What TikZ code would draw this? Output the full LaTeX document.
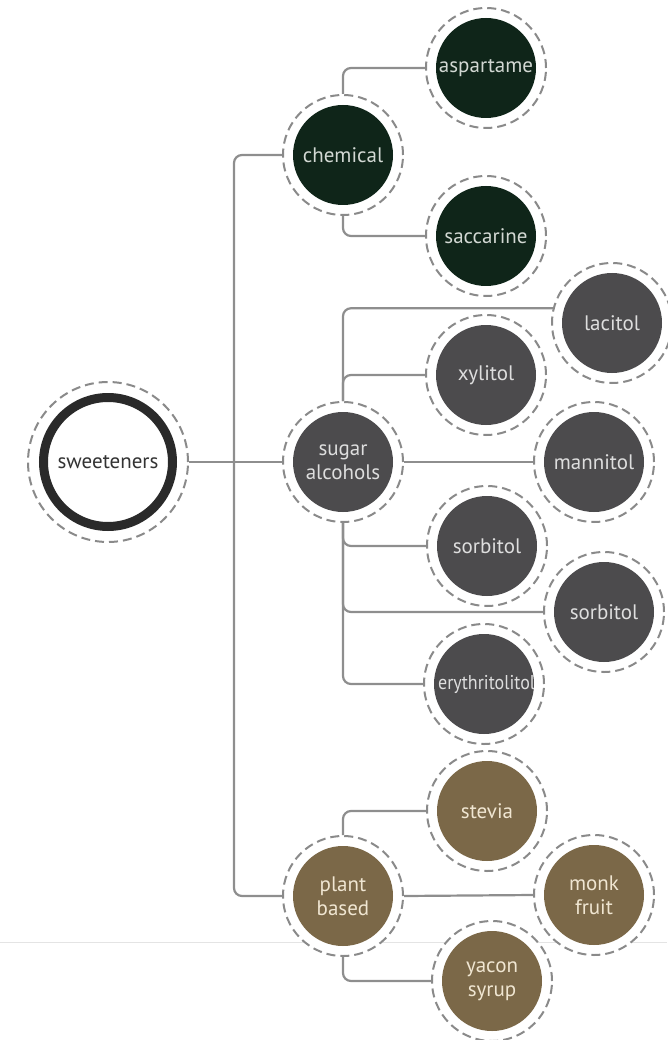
\documentclass[tikz,border=0pt]{standalone}
\usepackage{fontspec}
\setmainfont{PT Sans}
\usetikzlibrary{backgrounds}

\definecolor{chemgreen}{HTML}{0F2519}
\definecolor{chemtext}{HTML}{D2D8D3}
\definecolor{alcgray}{HTML}{4C4B4D}
\definecolor{alctext}{HTML}{DEDEDE}
\definecolor{plantbrown}{HTML}{7B6848}
\definecolor{planttext}{HTML}{F0E6D2}
\definecolor{ringdark}{HTML}{2A2A2A}
\definecolor{roottext}{HTML}{333333}
\definecolor{linegray}{HTML}{8E8E8E}
\definecolor{dashgray}{HTML}{8A8A8A}
\definecolor{rulegray}{HTML}{E4E4E4}

\tikzset{
  labelfont/.style={font=\fontsize{21}{24}\selectfont, align=center},
  halo/.style={circle, minimum size=120pt, inner sep=0pt, fill=white,
    draw=dashgray, line width=2pt, dash pattern=on 9pt off 5pt},
  bighalo/.style={halo, minimum size=160pt},
  disc/.style={circle, minimum size=100pt, inner sep=0pt, fill=#1, labelfont},
  chemdisc/.style={disc=chemgreen, text=chemtext},
  alcdisc/.style={disc=alcgray, text=alctext},
  plantdisc/.style={disc=plantbrown, text=planttext},
  rootring/.style={circle, minimum size=129pt, inner sep=0pt, fill=white,
    draw=ringdark, line width=9pt, labelfont, text=roottext},
  link/.style={draw=linegray, line width=2.2pt, rounded corners=8pt},
}

\begin{document}
\begin{tikzpicture}[x=1pt, y=-1pt]
\useasboundingbox (0,0) rectangle (667,1040);

% root
\node[bighalo] (sw) at (108,462) {};
\node[rootring] (swD) at (sw) {sweeteners};

% chemical branch
\node[halo] (chem) at (343,155) {};
\node[chemdisc] (chemD) at (chem) {chemical};
\node[halo] (asp) at (486,68) {};
\node[chemdisc] (aspD) at (asp) {aspartame};
\node[halo] (sac) at (486,236) {};
\node[chemdisc] (sacD) at (sac) {saccarine};

% sugar alcohol branch
\node[halo] (sa) at (343,462) {};
\node[alcdisc] (saD) at (sa) {sugar\\alcohols};
\node[halo] (lac) at (612,323) {};
\node[alcdisc] (lacD) at (lac) {lacitol};
\node[halo] (xyl) at (486,375) {};
\node[alcdisc] (xylD) at (xyl) {xylitol};
\node[halo] (man) at (594,462) {};
\node[alcdisc] (manD) at (man) {mannitol};
\node[halo] (sorA) at (487,546) {};
\node[alcdisc] (sorAD) at (sorA) {sorbitol};
\node[halo] (sorB) at (604,612) {};
\node[alcdisc] (sorBD) at (sorB) {sorbitol};
\node[halo] (ery) at (484,684) {};
% the long label is wider than its disc and is clipped by it
\node[alcdisc, path picture={\node[font=\fontsize{20}{24}\selectfont,
    text=alctext, xscale=0.9, xshift=3pt]
  at (path picture bounding box.center) {erythritolitol};}] (eryD) at (ery) {};

% plant based branch
\node[halo] (pb) at (343,896) {};
\node[plantdisc] (pbD) at (pb) {plant\\based};
\node[halo] (ste) at (487,811) {};
\node[plantdisc] (steD) at (ste) {stevia};
\node[halo] (monk) at (594,895) {};
\node[plantdisc] (monkD) at (monk) {monk\\fruit};
\node[halo] (yac) at (492,981) {};
\node[plantdisc] (yacD) at (yac) {yacon\\syrup};

\coordinate (bus) at (234,462);
\coordinate (ruleL) at (0,942);
\coordinate (ruleR) at (667,942);

\begin{scope}[on background layer]
  % thin horizontal rule behind the bottom group
  \draw[rulegray, line width=1pt] (ruleL) -- (ruleR);

  % trunk
  \draw[link] (sw.east) -- (sa.west);
  \draw[link] (chem.west) -| (bus) |- (pb.west);

  % chemical children
  \draw[link] (chem.north) |- (asp.west);
  \draw[link] (chem.south) |- (sac.west);

  % sugar alcohol children
  \draw[link] (sa.north) |- (lac.166);
  \draw[link] (sa.north) |- (xyl.west);
  \draw[link] (sa.east) -- (man.west);
  \draw[link] (sa.south) |- (sorA.west);
  \draw[link] (sa.south) |- (sorB.west);
  \draw[link] (sa.south) |- (ery.west);

  % plant based children
  \draw[link] (pb.north) |- (ste.west);
  \draw[link] (pb.east) -- (monk.west);
  \draw[link] (pb.south) |- (yac.west);
\end{scope}
\end{tikzpicture}
\end{document}
